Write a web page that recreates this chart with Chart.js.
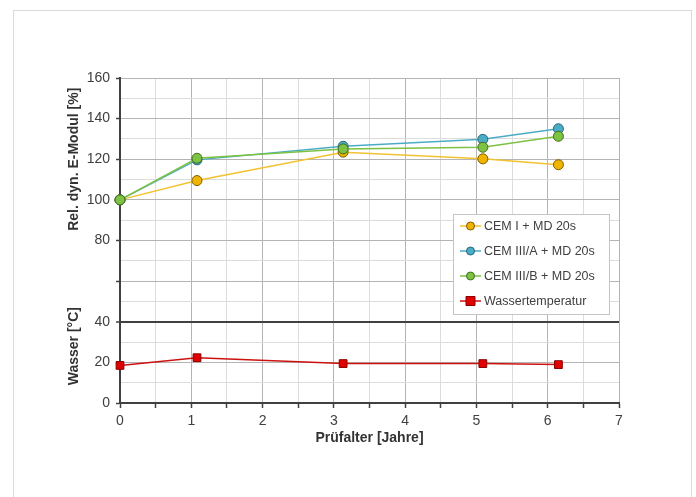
<!DOCTYPE html>
<html>
<head>
<meta charset="utf-8">
<script src="https://cdn.jsdelivr.net/npm/chart.js@4.4.1/dist/chart.umd.min.js"></script>
<style>
  html, body { margin: 0; padding: 0; background: #fff; }
  #wrap { width: 696px; height: 497px; }
</style>
</head>
<body>
<div id="wrap"><canvas id="chart" width="696" height="497"></canvas></div>
<script>
// Prüfalter in Jahren
const ageYears = [0, 1.08, 3.13, 5.09, 6.15];

// relativer dyn. E-Modul [%]
const cemI    = [100, 109.5, 123.5, 120.2, 117.3];
const cemIIIA = [100, 119.7, 126.4, 129.8, 135.0];
const cemIIIB = [100, 120.5, 125.1, 125.9, 131.3];

// Wassertemperatur [°C]
const waterTemp = [18.5, 22.3, 19.4, 19.4, 18.9];

const seriesLabels = ["CEM I + MD 20s", "CEM III/A + MD 20s", "CEM III/B + MD 20s", "Wassertemperatur"];
const yTickLabels = [0, 20, 40, 80, 100, 120, 140, 160];   // 60 bleibt leer (Trennbereich)

const FONT = "'Liberation Sans', Arial, sans-serif";
const TEXT = "#404040";

const pts = vals => vals.map((v, i) => ({ x: ageYears[i], y: v }));

function lineSet(label, vals, line, fill, edge, order, style) {
    return {
        label,
        data: pts(vals),
        borderColor: line,
        borderWidth: 1.5,
        backgroundColor: fill,
        pointBackgroundColor: fill,
        pointBorderColor: edge,
        pointBorderWidth: 1,
        pointRadius: style === "rect" ? 5.5 : 5,
        pointStyle: style,
        tension: 0,
        clip: false,
        order,
    };
}

// Achsentitel zweigeteilt + Rahmen
const titlesPlugin = {
    id: "titles",
    beforeDraw(chart) {
        const { ctx } = chart;
        ctx.save();
        ctx.strokeStyle = "#dadada";
        ctx.lineWidth = 1;
        ctx.strokeRect(13.5, 10.5, 678, 500);
        ctx.restore();
    },
    afterDraw(chart) {
        const { ctx, scales: { x, y } } = chart;
        ctx.save();
        ctx.fillStyle = "#333";
        ctx.font = `bold 14px ${FONT}`;
        ctx.textAlign = "center";
        ctx.textBaseline = "middle";

        const drawRotated = (text, cx, cy) => {
            ctx.save();
            ctx.translate(cx, cy);
            ctx.rotate(-Math.PI / 2);
            ctx.fillText(text, 0, 0);
            ctx.restore();
        };
        drawRotated("Rel. dyn. E-Modul [%]", 74, y.getPixelForValue(120));
        drawRotated("Wasser [°C]", 74, y.getPixelForValue(28));

        ctx.fillText("Prüfalter [Jahre]", x.getPixelForValue(3.5), chart.chartArea.bottom + 35);
        ctx.restore();
    },
};

// Legende mit Linie + Marker, eingerahmt
const boxLegend = {
    id: "boxLegend",
    afterDatasetsDraw(chart) {
        const { ctx, chartArea } = chart;
        const w = 156, h = 100;
        const left = chartArea.right - 10 - w;
        const top = chartArea.top + 136;
        ctx.save();
        ctx.fillStyle = "#fff";
        ctx.fillRect(left, top, w, h);
        ctx.strokeStyle = "#c4c4c4";
        ctx.lineWidth = 1;
        ctx.strokeRect(left + 0.5, top + 0.5, w, h);

        ctx.font = `12.5px ${FONT}`;
        ctx.textBaseline = "middle";
        chart.data.datasets.forEach((ds, i) => {
            const cy = top + 12 + i * 25;
            const x0 = left + 7, x1 = left + 28, cx = (x0 + x1) / 2;
            ctx.strokeStyle = ds.borderColor;
            ctx.lineWidth = 1.5;
            ctx.beginPath();
            ctx.moveTo(x0, cy);
            ctx.lineTo(x1, cy);
            ctx.stroke();
            ctx.fillStyle = ds.pointBackgroundColor;
            ctx.strokeStyle = ds.pointBorderColor;
            ctx.lineWidth = 1;
            ctx.beginPath();
            if (ds.pointStyle === "rect") ctx.rect(cx - 4.5, cy - 4.5, 9, 9);
            else ctx.arc(cx, cy, 4, 0, Math.PI * 2);
            ctx.fill();
            ctx.stroke();
            ctx.fillStyle = TEXT;
            ctx.textAlign = "left";
            ctx.fillText(ds.label, x1 + 3, cy + 0.5);
        });
        ctx.restore();
    },
};

new Chart(document.getElementById("chart"), {
    type: "line",
    data: {
        datasets: [
            lineSet(seriesLabels[0], cemI,    "#f2c230", "#f0b400", "#7a5c00", 3, "circle"),
            lineSet(seriesLabels[1], cemIIIA, "#4bacc6", "#4bacc6", "#2a6477", 2, "circle"),
            lineSet(seriesLabels[2], cemIIIB, "#7dc242", "#7dc242", "#3f6f1c", 1, "circle"),
            lineSet(seriesLabels[3], waterTemp, "#cc1111", "#e00000", "#8a0000", 0, "rect"),
        ],
    },
    options: {
        responsive: false,
        animation: false,
        layout: { padding: { left: 0, top: 78, right: 77, bottom: 34 } },
        plugins: {
            legend: { display: false },
            tooltip: { enabled: false },
        },
        scales: {
            x: {
                type: "linear",
                min: 0, max: 7,
                afterFit(scale) { scale.height = 60; },
                border: { color: TEXT, width: 2 },
                grid: {
                    color: c => (c.tick.value % 1 === 0 ? "#b4b4b4" : "#dcdcdc"),
                    lineWidth: 1,
                    tickColor: TEXT,
                    tickLength: 5,
                    tickWidth: 1.5,
                },
                ticks: {
                    stepSize: 0.5,
                    autoSkip: false,
                    maxRotation: 0,
                    padding: 5,
                    color: TEXT,
                    font: { family: FONT, size: 14 },
                    callback: v => (v % 1 === 0 ? v : ""),
                },
            },
            y: {
                min: 0, max: 160,
                afterFit(scale) { scale.width = 120; },
                border: { color: TEXT, width: 2 },
                grid: {
                    color: c => (c.tick.value === 40 ? TEXT : c.tick.value % 20 === 0 ? "#b4b4b4" : "#dcdcdc"),
                    lineWidth: c => (c.tick.value === 40 ? 2 : 1),
                    tickColor: c => (c.tick.value % 20 === 0 ? TEXT : "rgba(0,0,0,0)"),
                    tickLength: 4,
                    tickWidth: 1.5,
                },
                ticks: {
                    stepSize: 10,
                    autoSkip: false,
                    padding: 6,
                    color: TEXT,
                    font: { family: FONT, size: 14 },
                    callback: v => (yTickLabels.includes(v) ? v : ""),
                },
            },
        },
    },
    plugins: [titlesPlugin, boxLegend],
});
</script>
</body>
</html>
